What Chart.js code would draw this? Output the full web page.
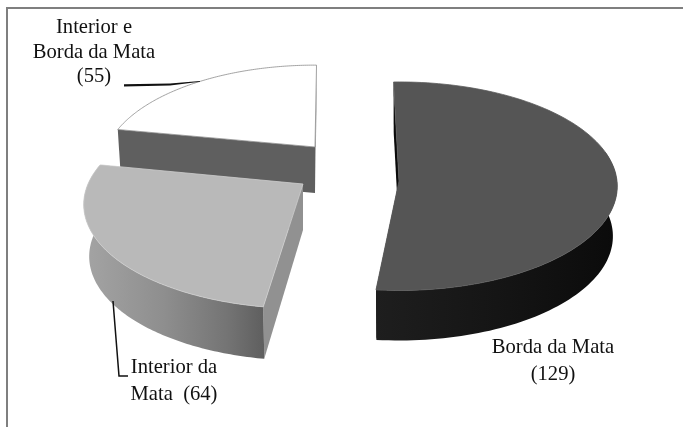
<!DOCTYPE html>
<html>
<head>
<meta charset="utf-8">
<style>
  html, body { margin: 0; padding: 0; background: #fff; }
  canvas { display: block; }
</style>
<script src="https://cdn.jsdelivr.net/npm/chart.js@4/dist/chart.umd.min.js"></script>
</head>
<body>
<canvas id="chart" width="683" height="427"></canvas>
<script>
// Observation counts per forest location
const categories = ['Borda da Mata', 'Interior da Mata', 'Interior e Borda da Mata'];
const counts = [129, 64, 55];
const faceColors = ['#555555', '#b9b9b9', '#ffffff'];

// Label wording per slice; the count is appended from the data
const labelLines = [
  (n) => ['Borda da Mata', `(${n})`],
  (n) => ['Interior da', `Mata  (${n})`],
  (n) => ['Interior e', 'Borda da Mata', `(${n})`]
];

// Each exploded slice is projected on its own: apex position, radii, perspective strength
const sliceViews = [
  { ax: 399, ay: 181, rx: 218, ry: 104, persp: 0.05, turn: -1.5, depth: 50, apexDepth: 50, shrink: 0.98 },
  { ax: 303, ay: 184, rx: 215, ry: 100, persp: 0.197, turn: 1.3, depth: 52, apexDepth: 46, shrink: 0.975 },
  { ax: 315, ay: 147, rx: 208, ry: 98, persp: 0.197, turn: 0.5, depth: 46, apexDepth: 46, shrink: 0.985 }
];
const drawOrder = [2, 0, 1];

const labelAnchors = [
  { x: 553, y: 348, gap: 27 },
  { x: 174, y: 368, gap: 27 },
  { x: 94, y: 27.5, gap: 24.7 }
];

function rimPoint(view, theta) {
  const u = Math.cos(theta), v = Math.sin(theta);
  const w = 1 - view.persp * v;
  return { x: view.ax + view.rx * u / w, y: view.ay + view.ry * v / w };
}
function dropPoint(view, p, depth) {
  return { x: view.ax + (p.x - view.ax) * view.shrink, y: p.y + depth };
}
function tracePoly(ctx, pts) {
  ctx.beginPath();
  pts.forEach((p, i) => (i ? ctx.lineTo(p.x, p.y) : ctx.moveTo(p.x, p.y)));
  ctx.closePath();
}

// The rear slice shows no curved wall, only its cut faces
const wallStyles = [
  { stops: [[0, '#1e1e1e'], [0.5, '#151515'], [1, '#0b0b0b']], startCut: '#0a0a0a', endCut: '#0a0a0a' },
  { stops: [[0, '#a4a4a4'], [0.45, '#8e8e8e'], [0.8, '#747474'], [1, '#5f5f5f']], startCut: '#919191', endCut: '#8a8a8a' },
  { stops: null, startCut: '#5f5f5f', endCut: '#a0a0a0' }
];
const faceStrokes = ['#5c5c5c', '#cdcdcd', '#8c8c8c'];

// Extruded pie: walls, then the top face of each arc the pie controller laid out
const pie3d = {
  id: 'pie3d',
  beforeDatasetsDraw(chart) {
    const ctx = chart.ctx;
    const arcs = chart.getDatasetMeta(0).data;
    drawOrder.forEach((i) => {
      const arc = arcs[i];
      const view = sliceViews[i];
      const turn = view.turn * Math.PI / 180;
      const a0 = arc.startAngle + turn, a1 = arc.endAngle + turn;
      const steps = 120;
      const angles = Array.from({ length: steps + 1 }, (_, k) => a0 + (a1 - a0) * k / steps);
      const rim = angles.map((a) => rimPoint(view, a));
      const apex = { x: view.ax, y: view.ay };
      const style = wallStyles[i];

      // Flat cut faces running back to the apex
      const cutAt = (p) => [p, apex, dropPoint(view, apex, view.apexDepth), dropPoint(view, p, view.depth)];
      ctx.fillStyle = style.endCut;
      tracePoly(ctx, cutAt(rim[rim.length - 1]));
      ctx.fill();
      ctx.fillStyle = style.startCut;
      tracePoly(ctx, cutAt(rim[0]));
      ctx.fill();

      // Curved outer wall; the part behind the silhouette ends up under the top face
      const front = rim.filter((p, k) => Math.sin(angles[k]) > -0.3);
      if (style.stops && front.length > 1) {
        const xs = front.map((p) => p.x);
        const g = ctx.createLinearGradient(Math.min(...xs), 0, Math.max(...xs), 0);
        style.stops.forEach(([t, c]) => g.addColorStop(t, c));
        ctx.fillStyle = g;
        tracePoly(ctx, front.concat(front.map((p) => dropPoint(view, p, view.depth)).reverse()));
        ctx.fill();
      }

      // Top face
      tracePoly(ctx, [apex].concat(rim));
      ctx.fillStyle = arc.options.backgroundColor;
      ctx.fill();
      ctx.strokeStyle = faceStrokes[i];
      ctx.lineWidth = 0.8;
      ctx.stroke();
    });
    return false;
  },
  afterDraw(chart) {
    const ctx = chart.ctx;
    // Outer frame
    ctx.strokeStyle = '#7f7f7f';
    ctx.lineWidth = 2;
    ctx.beginPath();
    ctx.moveTo(7, 427);
    ctx.lineTo(7, 8);
    ctx.lineTo(683, 8);
    ctx.stroke();

    // Leader lines: a tapered one for the upper label, an elbow for the lower one
    ctx.fillStyle = '#111';
    ctx.beginPath();
    ctx.moveTo(124, 84.2);
    ctx.lineTo(170, 83.6);
    ctx.lineTo(200, 81);
    ctx.lineTo(200, 81.8);
    ctx.lineTo(170, 85.4);
    ctx.lineTo(124, 86.4);
    ctx.closePath();
    ctx.fill();

    ctx.strokeStyle = '#111';
    ctx.lineWidth = 1.5;
    ctx.beginPath();
    ctx.moveTo(113, 301);
    ctx.lineTo(119, 376);
    ctx.lineTo(128, 376);
    ctx.stroke();

    // Slice labels
    const values = chart.data.datasets[0].data;
    ctx.fillStyle = '#111';
    ctx.font = '20.6px "Liberation Serif"';
    ctx.textAlign = 'center';
    ctx.textBaseline = 'middle';
    labelLines.forEach((make, i) => {
      make(values[i]).forEach((line, k) => {
        ctx.fillText(line, labelAnchors[i].x, labelAnchors[i].y + k * labelAnchors[i].gap);
      });
    });
  }
};

new Chart(document.getElementById('chart'), {
  type: 'pie',
  data: {
    labels: categories,
    datasets: [{ data: counts, backgroundColor: faceColors, borderWidth: 0 }]
  },
  options: {
    responsive: false,
    animation: false,
    rotation: 0,
    plugins: { legend: { display: false }, tooltip: { enabled: false } }
  },
  plugins: [pie3d]
});
</script>
</body>
</html>
